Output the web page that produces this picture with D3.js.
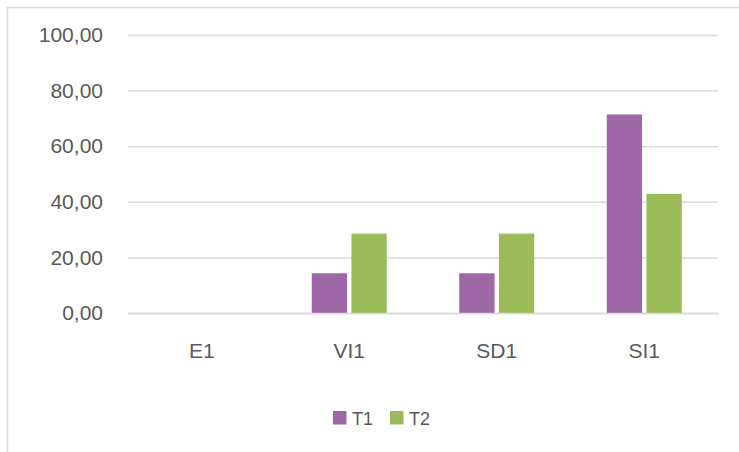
<!DOCTYPE html>
<html lang="en">
<head>
    <meta charset="UTF-8">
    <title>T1 / T2 chart</title>
    <script src="https://d3js.org/d3.v7.min.js"></script>
    <style>
        body { margin: 0; background: #fff; }
    </style>
</head>
<body>
    <svg id="chart" width="739" height="452"></svg>

    <script>
        // data
        const categories = ["E1", "VI1", "SD1", "SI1"];
        const seriesNames = ["T1", "T2"];
        const t1Values = [0, 14.29, 14.29, 71.43];
        const t2Values = [0, 28.57, 28.57, 42.86];
        const yTicks = [0, 20, 40, 60, 80, 100];

        const colors = { T1: "#9e67a6", T2: "#9bbb59" };
        const font = "'Liberation Sans', Arial, sans-serif";

        const svg = d3.select("#chart");

        // outer chart border
        svg.append("rect")
            .attr("x", 7.5).attr("y", 7.5)
            .attr("width", 760).attr("height", 470)
            .attr("fill", "none")
            .attr("stroke", "#d9d9d9")
            .attr("stroke-width", 1.5);

        const x = d3.scaleBand()
            .domain(categories)
            .range([128, 718]);

        const y = d3.scaleLinear()
            .domain([0, 100])
            .range([313, 35]);

        const inner = d3.scaleBand()
            .domain(seriesNames)
            .range([x.bandwidth() / 2 - 37.5, x.bandwidth() / 2 + 37.5])
            .paddingInner(0.11);

        // gridlines + y labels
        const yAxis = d3.axisLeft(y)
            .tickValues(yTicks)
            .tickSize(-(718 - 128))
            .tickPadding(25)
            .tickFormat(d => d3.format(".2f")(d).replace(".", ","));

        const yg = svg.append("g")
            .attr("transform", "translate(128,0)")
            .call(yAxis);
        yg.select(".domain").remove();
        yg.selectAll(".tick line")
            .attr("stroke", "#d9d9d9")
            .attr("stroke-width", 1.5);
        yg.selectAll(".tick text")
            .attr("fill", "#595959")
            .style("font-family", font)
            .style("font-size", "21px");

        // bars
        const rows = categories.map((c, i) => ({ cat: c, T1: t1Values[i], T2: t2Values[i] }));

        const groups = svg.selectAll(".group")
            .data(rows)
            .enter().append("g")
            .attr("class", "group")
            .attr("transform", d => `translate(${x(d.cat)},0)`);

        groups.selectAll("rect")
            .data(d => seriesNames.map(s => ({ key: s, value: d[s] })))
            .enter().append("rect")
            .attr("x", d => inner(d.key))
            .attr("y", d => y(d.value))
            .attr("width", inner.bandwidth())
            .attr("height", d => y(0) - y(d.value))
            .attr("fill", d => colors[d.key]);

        // x labels
        const xAxis = d3.axisBottom(x).tickSize(0).tickPadding(30);
        const xg = svg.append("g")
            .attr("transform", "translate(0,313)")
            .call(xAxis);
        xg.select(".domain")
            .attr("stroke", "#d9d9d9")
            .attr("stroke-width", 1.5);
        xg.selectAll(".tick text")
            .attr("fill", "#595959")
            .style("font-family", font)
            .style("font-size", "21px");

        // legend
        const legend = svg.append("g").attr("class", "legend");
        const legendX = [333, 390];
        seriesNames.forEach((s, i) => {
            legend.append("rect")
                .attr("x", legendX[i]).attr("y", 411)
                .attr("width", 13.5).attr("height", 13.5)
                .attr("fill", colors[s]);
            legend.append("text")
                .attr("x", legendX[i] + 19).attr("y", 424.5)
                .attr("fill", "#595959")
                .style("font-family", font)
                .style("font-size", "18px")
                .text(s);
        });
    </script>
</body>
</html>
